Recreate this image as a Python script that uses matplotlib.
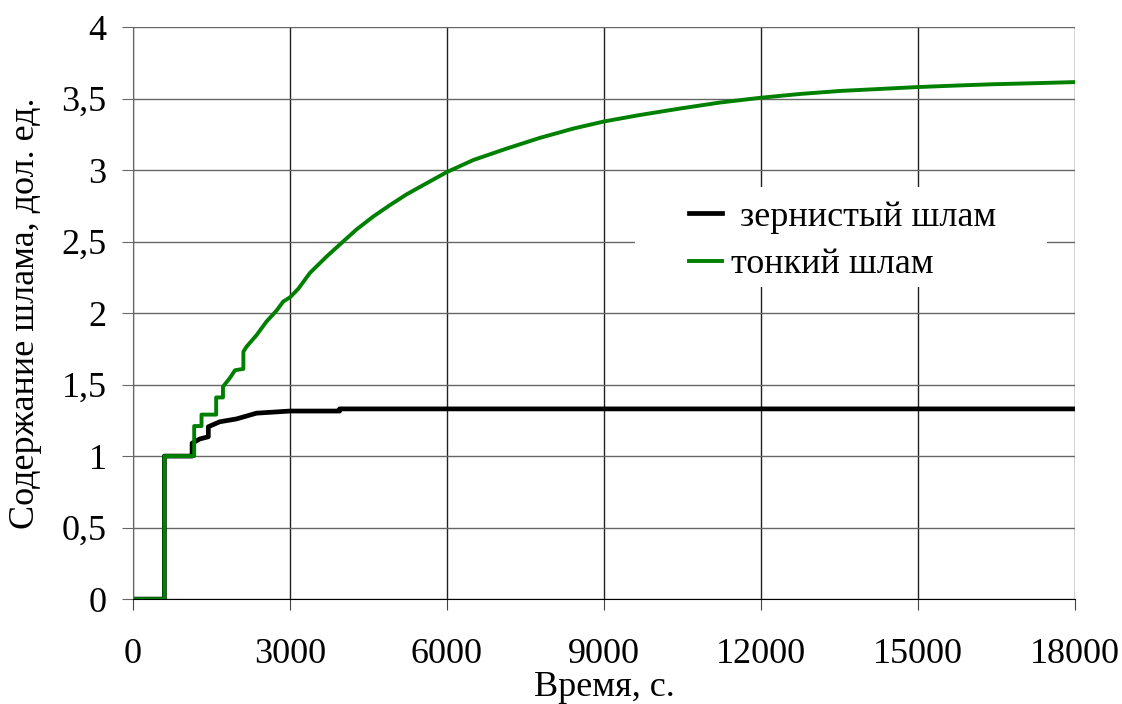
import matplotlib.pyplot as plt
from matplotlib.patches import Rectangle

plt.rcParams['font.family'] = ['Liberation Serif', 'DejaVu Serif']

# Время, с. / содержание шлама (ступенчатые кривые)
t_coarse = [0, 600, 600, 1130, 1130, 1280, 1440, 1440, 1660, 1980, 2360,
            3000, 3950, 3950, 18000]
v_coarse = [0, 0, 1.0, 1.0, 1.09, 1.12, 1.135, 1.205, 1.24, 1.26, 1.30,
            1.315, 1.315, 1.33, 1.33]

t_fine = [0, 600, 600, 1170, 1170, 1310, 1310, 1590, 1590, 1720, 1720,
          1850, 1950, 2110, 2110, 2170, 2360, 2550, 2750, 2870, 3000,
          3160, 3380, 3700, 3955, 4274, 4592, 4911, 5229, 5548, 5994,
          6503, 7140, 7777, 8414, 9006, 9688, 10452, 11216, 11981, 12745,
          13509, 14274, 14975, 15670, 16430, 17200, 18000]
v_fine = [0, 0, 1.0, 1.0, 1.21, 1.21, 1.29, 1.29, 1.41, 1.41, 1.485,
          1.545, 1.60, 1.61, 1.73, 1.765, 1.845, 1.94, 2.02, 2.08, 2.11,
          2.17, 2.28, 2.395, 2.48, 2.585, 2.675, 2.755, 2.83, 2.895, 2.985,
          3.07, 3.15, 3.225, 3.29, 3.34, 3.385, 3.43, 3.472, 3.505, 3.532,
          3.553, 3.567, 3.58, 3.59, 3.60, 3.607, 3.615]

x_ticks = [0, 3000, 6000, 9000, 12000, 15000, 18000]
y_ticks = [0, 0.5, 1, 1.5, 2, 2.5, 3, 3.5, 4]
y_labels = ['0', '0,5', '1', '1,5', '2', '2,5', '3', '3,5', '4']

fs = 26

fig = plt.figure(figsize=(11.22, 7.04), dpi=100)
ax = fig.add_axes([0.1185, 0.149, 0.8395, 0.8126])

ax.plot(t_coarse, v_coarse, color='black', lw=3.4, label=' зернистый шлам')
ax.plot(t_fine, v_fine, color='#008000', lw=2.8, label='тонкий шлам')

ax.set_xlim(0, 18000)
ax.set_ylim(0, 4)
ax.set_xticks(x_ticks)
ax.set_yticks(y_ticks)
ax.set_yticklabels(y_labels)

ax.xaxis.grid(True, color='#222222', lw=1)
ax.yaxis.grid(True, color='#666666', lw=1)
ax.set_axisbelow(True)

for s in ['top', 'right']:
    ax.spines[s].set_visible(False)
ax.spines['left'].set_color('#666666')
ax.spines['bottom'].set_color('black')
ax.tick_params(axis='both', direction='out', length=8, labelsize=fs)
ax.tick_params(axis='x', pad=20, color='#444444')
ax.tick_params(axis='y', pad=11, color='#666666')

ax.set_xlabel('Время, с.', fontsize=fs, va='top')
ax.xaxis.set_label_coords(0.5, -0.126)
ax.set_ylabel('Содержание шлама, дол. ед.', fontsize=fs)
ax.yaxis.set_label_coords(-0.097, 0.5)

# белая подложка легенды поверх сетки
ax.add_patch(Rectangle((0.533, 0.545), 0.437, 0.175, transform=ax.transAxes,
                       facecolor='white', edgecolor='none', zorder=3))
leg = ax.legend(loc='center left', bbox_to_anchor=(0.575, 0.626),
                frameon=False, fontsize=fs, handlelength=0.9,
                handletextpad=0.25, labelspacing=0.4, borderaxespad=0)
leg.set_zorder(4)

fig.savefig('out.png', dpi=100)
